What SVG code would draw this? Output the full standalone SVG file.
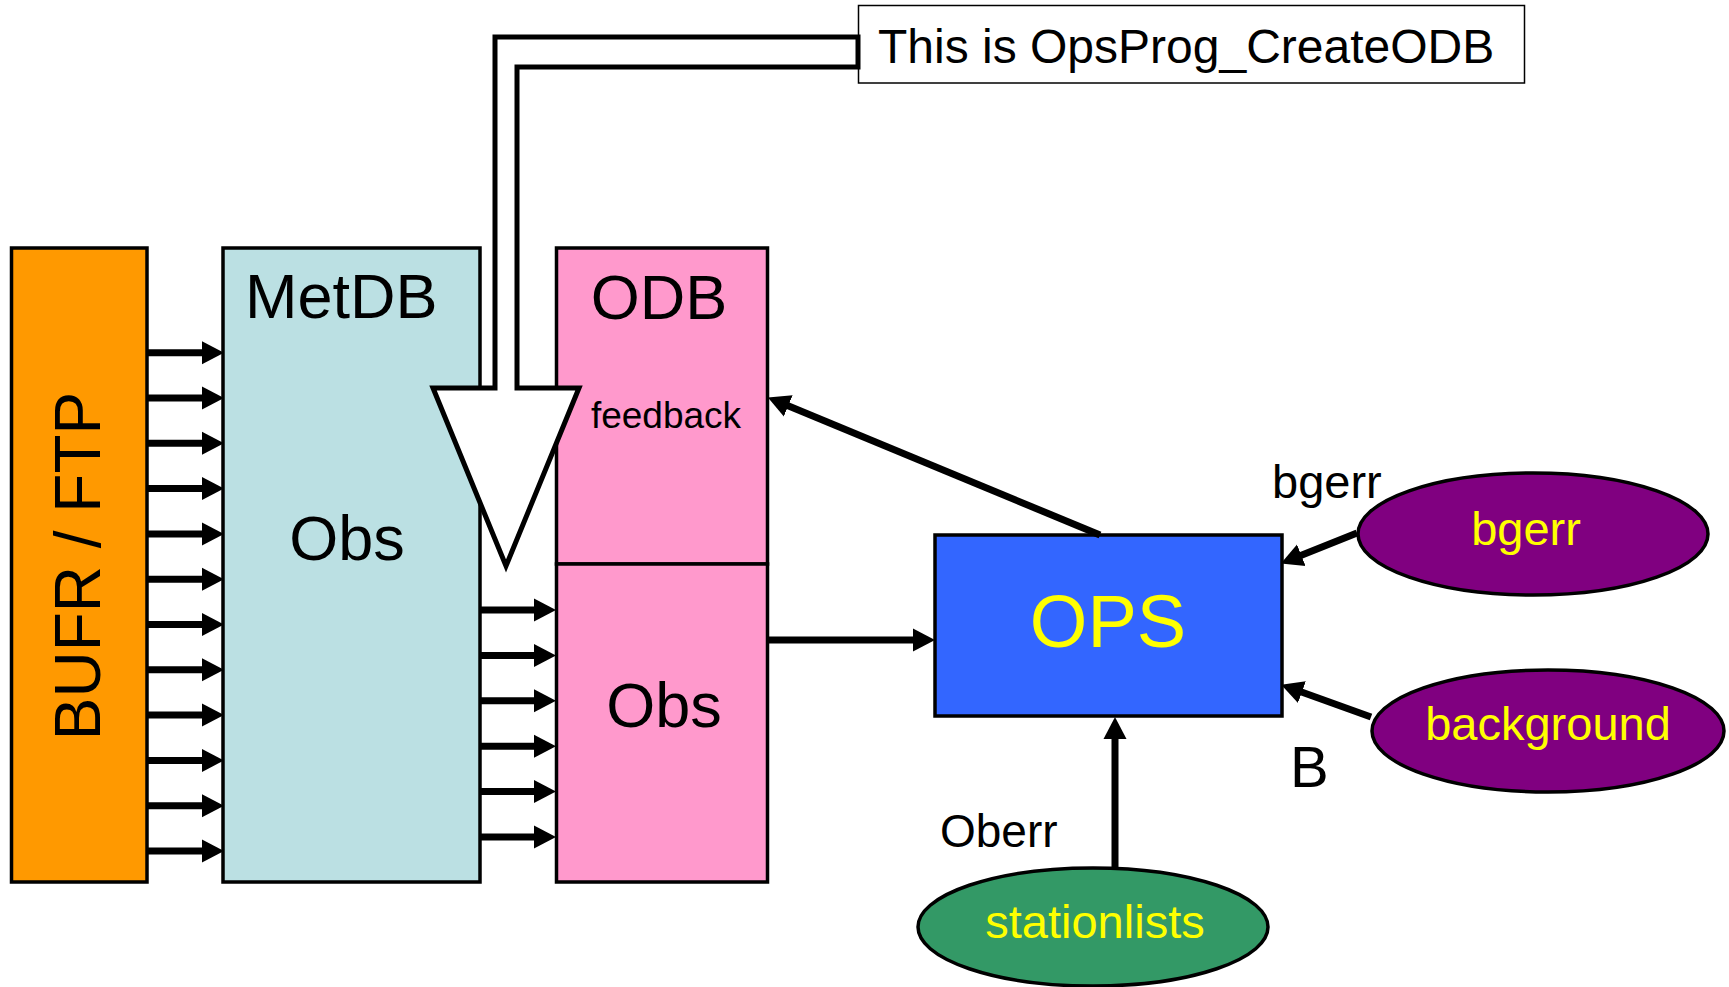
<svg xmlns="http://www.w3.org/2000/svg" width="1729" height="987" viewBox="0 0 1729 987">
<style>
text{font-family:"Liberation Sans",Arial,sans-serif;fill:#000}
.box{stroke:#000;stroke-width:3.5}
.ell{stroke:#000;stroke-width:3.5}
.yl{fill:#FFFF00}
.ar{stroke:#000;stroke-width:7;fill:none;marker-end:url(#ah)}
</style>
<defs>
<marker id="ah" markerUnits="userSpaceOnUse" markerWidth="22" markerHeight="24" viewBox="0 0 22 24" refX="10" refY="12" orient="auto">
<path d="M0,0.5 L22,12 L0,23.5 z" fill="#000"/>
</marker>
</defs>
<rect width="1729" height="987" fill="#fff"/>

<g id="bufr">
<rect class="box" x="11.5" y="248" width="135.5" height="634" fill="#FF9900"/>
<text transform="translate(100,566) rotate(-90)" text-anchor="middle" font-size="64">BUFR / FTP</text>
</g>

<g id="metdb">
<rect class="box" x="223" y="248" width="257" height="634" fill="#BBE0E3"/>
<text x="245" y="318" font-size="63">MetDB</text>
<text x="347" y="560" text-anchor="middle" font-size="63">Obs</text>
</g>

<g id="odb">
<rect class="box" x="556.5" y="248" width="211" height="316" fill="#FF99CC"/>
<rect class="box" x="556.5" y="564" width="211" height="318" fill="#FF99CC"/>
<text x="659" y="319" text-anchor="middle" font-size="63">ODB</text>
<text x="666" y="428" text-anchor="middle" font-size="37">feedback</text>
<text x="664" y="727" text-anchor="middle" font-size="63">Obs</text>
</g>

<g id="ops">
<rect class="box" x="935" y="535" width="347" height="181" fill="#3366FF"/>
<text class="yl" x="1108" y="647" text-anchor="middle" font-size="74">OPS</text>
</g>

<g id="bgerr">
<ellipse class="ell" cx="1533" cy="534" rx="175" ry="61" fill="#800080"/>
<text class="yl" x="1526" y="545" text-anchor="middle" font-size="47">bgerr</text>
</g>

<g id="background">
<ellipse class="ell" cx="1548" cy="731" rx="176" ry="61" fill="#800080"/>
<text class="yl" x="1548" y="740" text-anchor="middle" font-size="47">background</text>
</g>

<g id="stationlists">
<ellipse class="ell" cx="1093" cy="927" rx="175" ry="59" fill="#339966"/>
<text class="yl" x="1095" y="938" text-anchor="middle" font-size="47">stationlists</text>
</g>

<g id="title">
<rect x="858.5" y="5.5" width="666" height="77.5" fill="#fff" stroke="#000" stroke-width="1.5"/>
<text x="878" y="63" font-size="48">This is OpsProg_CreateODB</text>
</g>

<g id="connectors">
<g class="stubs">
<line class="ar" x1="147" y1="352.7" x2="212" y2="352.7"/>
<line class="ar" x1="147" y1="398" x2="212" y2="398"/>
<line class="ar" x1="147" y1="443.3" x2="212" y2="443.3"/>
<line class="ar" x1="147" y1="488.6" x2="212" y2="488.6"/>
<line class="ar" x1="147" y1="533.9" x2="212" y2="533.9"/>
<line class="ar" x1="147" y1="579.2" x2="212" y2="579.2"/>
<line class="ar" x1="147" y1="624.5" x2="212" y2="624.5"/>
<line class="ar" x1="147" y1="669.8" x2="212" y2="669.8"/>
<line class="ar" x1="147" y1="715.1" x2="212" y2="715.1"/>
<line class="ar" x1="147" y1="760.4" x2="212" y2="760.4"/>
<line class="ar" x1="147" y1="805.7" x2="212" y2="805.7"/>
<line class="ar" x1="147" y1="851" x2="212" y2="851"/>
<line class="ar" x1="481" y1="610" x2="544" y2="610"/>
<line class="ar" x1="481" y1="655.4" x2="544" y2="655.4"/>
<line class="ar" x1="481" y1="700.8" x2="544" y2="700.8"/>
<line class="ar" x1="481" y1="746.2" x2="544" y2="746.2"/>
<line class="ar" x1="481" y1="791.6" x2="544" y2="791.6"/>
<line class="ar" x1="481" y1="837" x2="544" y2="837"/>
</g>
<line class="ar" x1="768" y1="640" x2="923" y2="640"/>
<line class="ar" x1="1100" y1="535" x2="779" y2="402"/>
<line class="ar" x1="1357" y1="533" x2="1292" y2="559"/>
<line class="ar" x1="1371" y1="717" x2="1292.5" y2="688.7"/>
<line class="ar" x1="1115" y1="868" x2="1115" y2="729"/>
<path d="M858,37 L495,37 L495,388 L433,388 L506,566 L579,388 L517,388 L517,67 L858,67 Z" fill="#fff" stroke="#000" stroke-width="5" stroke-linejoin="miter"/>
</g>

<g id="labels">
<text x="1272" y="498" font-size="47">bgerr</text>
<text x="1290" y="787" font-size="58">B</text>
<text x="940" y="847" font-size="46">Oberr</text>
</g>
</svg>
